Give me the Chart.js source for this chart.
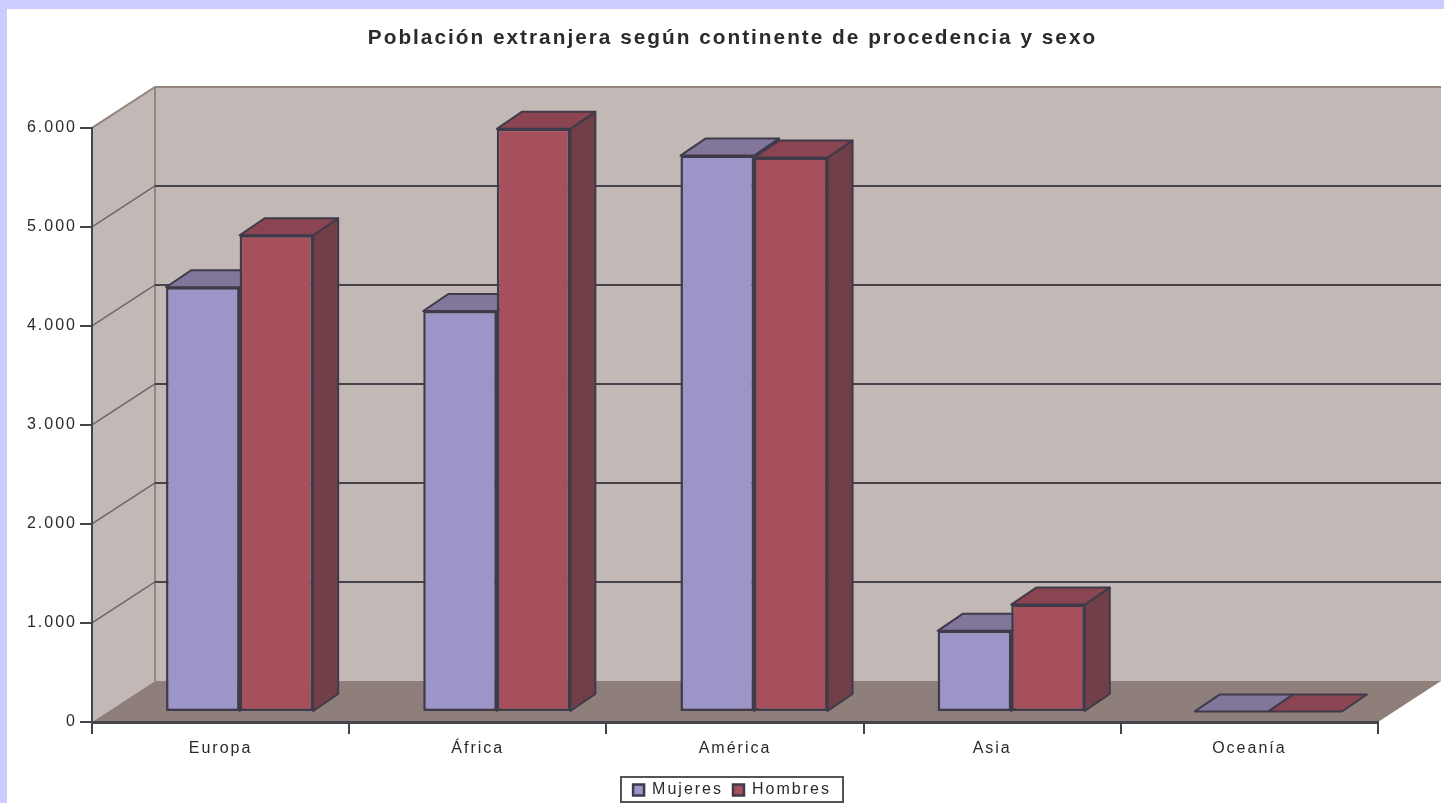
<!DOCTYPE html>
<html lang="es">
<head>
<meta charset="utf-8">
<title>Población extranjera</title>
<script src="https://cdn.jsdelivr.net/npm/chart.js@4"></script>
<style>
    html, body { margin: 0; width: 1444px; height: 803px; overflow: hidden; background: #ccccff; }
    #sheet { position: absolute; left: 7px; top: 9px; right: 0; bottom: 0; background: #ffffff; }
    #chart { position: absolute; left: 0; top: 0; filter: blur(0.7px); }
</style>
</head>
<body>
<div id="sheet"></div>
<canvas id="chart" width="1444" height="803"></canvas>
<script>
const categories = ['Europa', 'África', 'América', 'Asia', 'Oceanía'];
const mujeres = [4290, 4050, 5620, 820, 6];
const hombres = [4815, 5890, 5600, 1085, 5];
const yTickLabels = ['0', '1.000', '2.000', '3.000', '4.000', '5.000', '6.000'];

const titleText = 'Población extranjera según continente de procedencia y sexo';
const textColor = '#2a2a2a';
const axisColor = '#45434c';

// Offsets of the fake 3D box (px)
const wall = { dx: 63, dy: -41 };
const bar = { dx: 19, dy: -10, depthX: 25, depthY: -17 };
const legendBox = { left: 621, top: 777, width: 222, height: 25 };
const titleCentre = 732.5;

function poly(ctx, pts, fill, stroke, lw) {
    ctx.beginPath();
    pts.forEach((p, i) => i ? ctx.lineTo(p[0], p[1]) : ctx.moveTo(p[0], p[1]));
    ctx.closePath();
    ctx.fillStyle = fill;
    ctx.fill();
    if (stroke) {
        ctx.strokeStyle = stroke;
        ctx.lineWidth = lw;
        ctx.lineJoin = 'round';
        ctx.stroke();
    }
}

const box3d = {
    id: 'box3d',
    beforeLayout(chart) {
        chart.ctx.letterSpacing = '2px';
    },
    afterLayout(chart) {
        // title and legend sit over the plot centre in the original, not the canvas centre
        const lg = chart.legend;
        lg.left = legendBox.left;
        lg.right = legendBox.left + legendBox.width;
        lg.width = legendBox.width;
        lg.top = legendBox.top - 5;
        const tb = chart.titleBlock;
        tb.left = titleCentre - 711;
        tb.right = titleCentre + 711;
        tb.width = 1422;
    },
    beforeDraw(chart) {
        const ctx = chart.ctx;
        const { left, right, top, bottom } = chart.chartArea;
        const { dx, dy } = wall;
        ctx.letterSpacing = '2px';
        ctx.save();
        // back wall, side wall, floor
        poly(ctx, [[left + dx, top + dy], [right + dx, top + dy], [right + dx, bottom + dy], [left + dx, bottom + dy]], '#c2b8b5');
        poly(ctx, [[left, top], [left + dx, top + dy], [left + dx, bottom + dy], [left, bottom]], '#c2b8b5');
        poly(ctx, [[left, bottom], [left + dx, bottom + dy], [right + dx, bottom + dy], [right, bottom]], '#8e7f7a');
        // wall edges
        ctx.strokeStyle = '#94867f';
        ctx.lineWidth = 2;
        ctx.beginPath();
        ctx.moveTo(left, top);
        ctx.lineTo(left + dx, top + dy);
        ctx.lineTo(right + dx, top + dy);
        ctx.moveTo(left + dx, top + dy);
        ctx.lineTo(left + dx, bottom + dy);
        ctx.stroke();
        // grid lines from the y scale
        const yScale = chart.scales.y;
        yScale.ticks.forEach(t => {
            if (t.value === 0 || t.value === yScale.max) return;
            const y = yScale.getPixelForValue(t.value);
            ctx.strokeStyle = '#6f6867';
            ctx.lineWidth = 1.5;
            ctx.beginPath();
            ctx.moveTo(left, y);
            ctx.lineTo(left + dx, y + dy);
            ctx.stroke();
            ctx.strokeStyle = '#45434c';
            ctx.lineWidth = 2;
            ctx.beginPath();
            ctx.moveTo(left + dx, y + dy);
            ctx.lineTo(right + dx, y + dy);
            ctx.stroke();
        });
        ctx.restore();
    },
    beforeDatasetsDraw(chart) {
        // side and top faces first, Mujeres then Hombres; the library then paints the fronts
        const ctx = chart.ctx;
        ctx.save();
        ctx.translate(bar.dx, bar.dy);
        chart.data.datasets.forEach((ds, i) => {
            chart.getDatasetMeta(i).data.forEach(el => {
                const r = el.x + el.width / 2;
                const l = el.x - el.width / 2;
                const ox = bar.depthX, oy = bar.depthY;
                if (el.base - el.y > 2) {
                    poly(ctx, [[r, el.y], [r + ox, el.y + oy], [r + ox, el.base + oy], [r, el.base]], ds.sideColor, ds.borderColor, 2);
                }
                poly(ctx, [[l, el.y], [l + ox, el.y + oy], [r + ox, el.y + oy], [r, el.y]], ds.topColor, ds.borderColor, 2);
            });
        });
    },
    afterDatasetsDraw(chart) {
        chart.ctx.restore();
    },
    afterDraw(chart) {
        // legend frame
        const ctx = chart.ctx;
        ctx.save();
        ctx.strokeStyle = '#55535a';
        ctx.lineWidth = 2;
        ctx.strokeRect(legendBox.left, legendBox.top, legendBox.width, legendBox.height);
        ctx.restore();
    }
};

new Chart(document.getElementById('chart'), {
    type: 'bar',
    data: {
        labels: categories,
        datasets: [
            { label: 'Mujeres', data: mujeres, backgroundColor: '#9c95c8', topColor: '#82769a', sideColor: '#6f6a8c', borderColor: '#3f3b4a', borderWidth: 2.5, borderSkipped: false, clip: false },
            { label: 'Hombres', data: hombres, backgroundColor: '#a5505c', topColor: '#8a4452', sideColor: '#703f48', borderColor: '#3f3b4a', borderWidth: 2.5, borderSkipped: false, clip: false }
        ]
    },
    options: {
        responsive: false,
        animation: false,
        devicePixelRatio: 1,
        layout: { padding: { left: 0, right: 66, top: 0, bottom: 0 } },
        datasets: { bar: { categoryPercentage: 0.572, barPercentage: 1 } },
        plugins: {
            title: {
                display: true,
                text: titleText,
                color: textColor,
                font: { family: '"Liberation Sans"', size: 20.8, weight: 'bold' },
                padding: { top: 25.5, bottom: 77.5 }
            },
            legend: {
                position: 'bottom',
                labels: {
                    color: textColor,
                    font: { family: '"Liberation Sans"', size: 16 },
                    boxWidth: 11,
                    boxHeight: 11,
                    padding: 10
                }
            },
            tooltip: { enabled: false }
        },
        scales: {
            x: {
                grid: { drawOnChartArea: false, drawTicks: true, tickLength: 12, color: axisColor, lineWidth: 2 },
                border: { color: axisColor, width: 3 },
                ticks: { color: textColor, font: { family: '"Liberation Sans"', size: 16 }, padding: 5, maxRotation: 0 },
                afterFit(scale) { scale.height = 45; }
            },
            y: {
                min: 0,
                max: 6000,
                grid: { drawOnChartArea: false, drawTicks: true, tickLength: 12, color: axisColor, lineWidth: 2 },
                border: { color: axisColor, width: 2 },
                ticks: {
                    stepSize: 1000,
                    color: textColor,
                    font: { family: '"Liberation Sans"', size: 16 },
                    padding: 3,
                    callback: (v, i) => yTickLabels[i]
                },
                afterFit(scale) { scale.width = 92; }
            }
        }
    },
    plugins: [box3d]
});
</script>
</body>
</html>
